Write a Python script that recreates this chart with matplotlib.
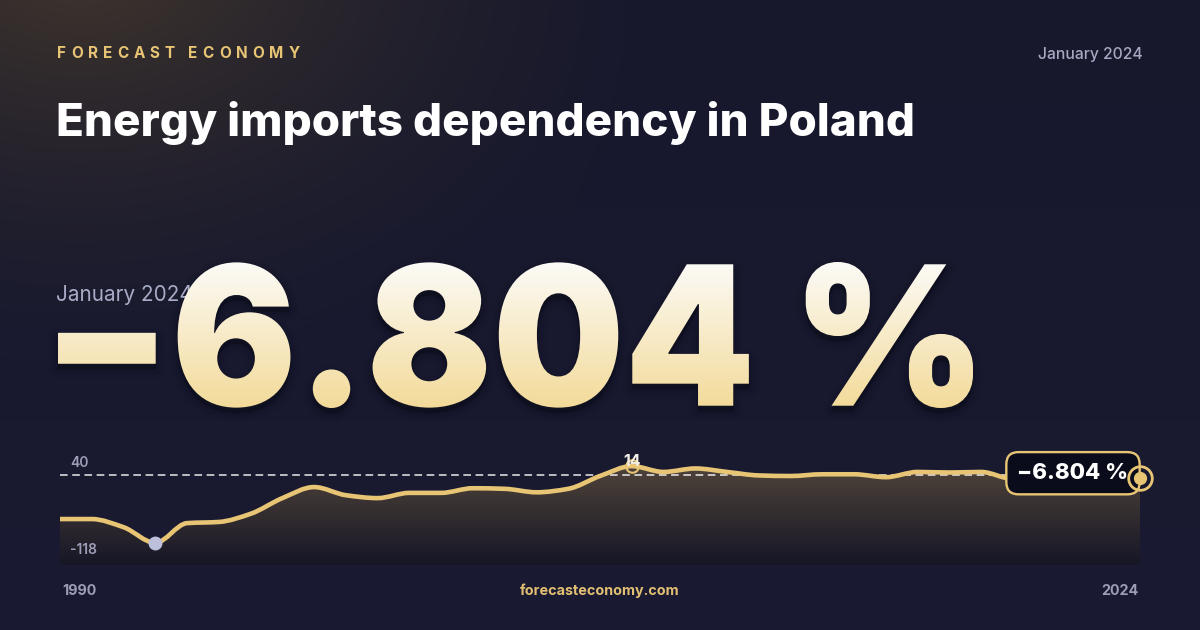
import numpy as np
import matplotlib
matplotlib.use("Agg")
import matplotlib.pyplot as plt
from matplotlib.textpath import TextPath
from matplotlib.font_manager import FontProperties
from matplotlib.patches import PathPatch
from matplotlib.path import Path
from matplotlib.transforms import Affine2D

# ---------------- data ----------------
years = list(range(1990, 2025))
values = [-77, -77, -91, -118, -84, -82, -68, -41, -22, -36,
          -41, -32, -32, -24, -25, -31, -25, -3, 14, 4,
          10, 4, -2, -3, 0, 0, -5, 4, 3, 4,
          -8, -6, -9, -7, -6.804]
label_top = "40"
label_min = "-118"
headline_value = "\u22126.804 %"
box_value = "\u22126.804 %"
period = "January 2024"
title = "Energy imports dependency in Poland"
brand = "FORECAST ECONOMY"
site = "forecasteconomy.com"
first_year, last_year = "1990", "2024"

W, H = 1200, 630
GOLD = "#e8c575"
GREY = "#9c9eb8"
FONT = "Inter"

plt.rcParams['font.family'] = [FONT, 'DejaVu Sans']
fig = plt.figure(figsize=(12, 6.3), dpi=100)

# ---------------- background ----------------
bg = fig.add_axes([0, 0, 1, 1])
bg.set_axis_off()
yy, xx = np.mgrid[0:H, 0:W]
base = np.array([23, 24, 44]) / 255.0
bottom_c = np.array([26, 27, 50]) / 255.0
t = (yy / H)[..., None]
img = base * (1 - t) + bottom_c * t
d = np.sqrt(((xx - 80) / 620.0) ** 2 + ((yy + 40) / 420.0) ** 2)
glow = np.clip(1 - d, 0, 1)[..., None] ** 1.6
warm = np.array([64, 54, 44]) / 255.0
img = img * (1 - glow) + warm * glow
bg.imshow(img, extent=[0, W, H, 0], aspect='auto', zorder=0)


def fit_text(ax, x, y, s, target_w, size, **kw):
    t = ax.text(x, y, s, fontsize=size, **kw)
    r = fig.canvas.get_renderer()
    w = t.get_window_extent(r).width
    t.set_fontsize(size * target_w / w)
    return t


def spaced_text(ax, x, y, s, size, spacing, **kw):
    r = fig.canvas.get_renderer()
    cx = x
    for ch in s:
        t = ax.text(cx, y, ch, fontsize=size, **kw)
        w = t.get_window_extent(r).width
        if ch == " ":
            w = size * 0.3
        cx += w + spacing
    return cx


# header
spaced_text(bg, 57, 53, brand, 11, 5.0, color=GOLD, fontweight='bold',
            va='center', ha='left')
fit_text(bg, 1143, 54, period, 105, 11, color="#a6a8c2", va='center', ha='right',
         fontweight='medium')
fit_text(bg, 56, 123, title, 857, 31, color="white", fontweight='heavy',
         va='center', ha='left')

# period label behind big number
fit_text(bg, 56, 295, period, 136, 14.5, color="#a9abc6", va='center', ha='left')

# big gradient number
fp = FontProperties(family=FONT, weight='black')
tp = TextPath((0, 0), headline_value, size=100, prop=fp)
bb = tp.get_extents()
x0t, x1t, ytop, ybot = 58, 973, 262, 408
s = (ybot - ytop) / bb.height
sx = (x1t - x0t) / bb.width
tr = Affine2D().translate(-bb.x0, -bb.y0).scale(sx, -s).translate(x0t, ybot) + bg.transData
shadow_tr = Affine2D().translate(-bb.x0, -bb.y0).scale(sx, -s).translate(x0t, ybot + 5) + bg.transData
for lw_s, a_s in [(14, 0.05), (9, 0.06), (4, 0.08), (0.5, 0.10)]:
    bg.add_patch(PathPatch(tp, transform=shadow_tr, facecolor="#05060c", edgecolor="#05060c",
                           lw=lw_s, alpha=a_s, zorder=2, joinstyle='round'))
patch = PathPatch(tp, transform=tr, facecolor='none', edgecolor='none', zorder=3)
bg.add_patch(patch)
gt = np.linspace(0, 1, 256)[:, None, None]
top_c = np.array([252, 251, 248]) / 255.0
bot_c = np.array([243, 218, 152]) / 255.0
grad = np.repeat(top_c * (1 - gt) + bot_c * gt, 2, axis=1)
gim = bg.imshow(grad, extent=[x0t - 5, x1t + 5, ybot + 2, ytop - 2],
                aspect='auto', zorder=3, interpolation='bilinear')
gim.set_clip_path(patch)

# footer
bg.text(62, 591, first_year, color=GREY, fontsize=10.3, fontweight='bold',
        va='center', ha='left')
bg.text(1138, 591, last_year, color=GREY, fontsize=10.3, fontweight='bold',
        va='center', ha='right')
bg.text(600, 591, site, color="#e2bf73", fontsize=10.3, fontweight='bold',
        va='center', ha='center')

bg.set_xlim(0, W)
bg.set_ylim(H, 0)

# ---------------- chart ----------------
ymin, ymax = -156, 40
ax = fig.add_axes([60 / W, (H - 565) / H, 1080 / W, 114 / H])
ax.set_axis_off()


def monotone_bezier(x, y):
    x = np.asarray(x, float)
    y = np.asarray(y, float)
    n = len(x)
    h = np.diff(x)
    delta = np.diff(y) / h
    m = np.zeros(n)
    m[0], m[-1] = delta[0], delta[-1]
    for k in range(1, n - 1):
        if delta[k - 1] * delta[k] > 0:
            w1 = 2 * h[k] + h[k - 1]
            w2 = h[k] + 2 * h[k - 1]
            m[k] = (w1 + w2) / (w1 / delta[k - 1] + w2 / delta[k])
    verts = [(x[0], y[0])]
    codes = [Path.MOVETO]
    for k in range(n - 1):
        verts += [(x[k] + h[k] / 3, y[k] + m[k] * h[k] / 3),
                  (x[k + 1] - h[k] / 3, y[k + 1] - m[k + 1] * h[k] / 3),
                  (x[k + 1], y[k + 1])]
        codes += [Path.CURVE4] * 3
    return verts, codes


lverts, lcodes = monotone_bezier(years, values)
fverts = lverts + [(years[-1], ymin), (years[0], ymin), (years[0], values[0])]
fcodes = lcodes + [Path.LINETO, Path.LINETO, Path.CLOSEPOLY]

fill_t = np.linspace(0, 1, 256)[:, None, None]
f_top = np.array([80, 68, 58]) / 255.0
f_bot = np.array([22, 22, 38]) / 255.0
fgrad = np.repeat(f_top * (1 - fill_t) + f_bot * fill_t, 2, axis=1)
fim = ax.imshow(fgrad, extent=[years[0], years[-1], ymin, max(values) + 2],
                aspect='auto', origin='upper', zorder=1, interpolation='bilinear')
fim.set_clip_path(Path(fverts, fcodes), ax.transData)
ax.set_xlim(years[0], years[-1])
ax.set_ylim(ymin, ymax)

ax.axhline(-1.5, color='white', lw=1.1, ls=(0, (5, 3)), zorder=2, alpha=0.9)
ax.add_patch(PathPatch(Path(lverts, lcodes), facecolor='none', edgecolor=GOLD, lw=3.3,
                       capstyle='round', joinstyle='round', zorder=3))

imin = int(np.argmin(values))
imax = int(np.argmax(values))
ax.plot(years[imin], values[imin], 'o', ms=9, color="#bcc0da", zorder=4, clip_on=False)
ax.plot(years[imax], values[imax], 'o', ms=9, mfc='none', mec=GOLD, mew=1.5,
        zorder=4, clip_on=False)
ax.annotate(f"{values[imax]:g}", (years[imax], values[imax]), xytext=(0, 5),
            textcoords='offset pixels', ha='center', va='center', color="#f4f0e6",
            fontsize=11.5, fontweight='bold', zorder=5)

# end marker and value box
ax.annotate(box_value, (years[-1], values[-1]), xytext=(-67, 5),
            textcoords='offset pixels', ha='center', va='center', color='white',
            fontsize=16, fontweight='heavy', zorder=5,
            bbox=dict(boxstyle='round,pad=0.5,rounding_size=0.55', fc="#0b0c1b",
                      ec=GOLD, lw=1.7))
ax.plot(years[-1], values[-1], 'o', ms=17, mfc='none', mec=GOLD, mew=2,
        zorder=6, clip_on=False)
ax.plot(years[-1], values[-1], 'o', ms=8.5, color=GOLD, zorder=6, clip_on=False)

ax.annotate(label_top, (years[0], ymax), xytext=(10, -12), textcoords='offset pixels',
            ha='left', va='center', color=GREY, fontsize=10, fontweight='semibold')
ax.annotate(label_min, (years[0], values[imin]), xytext=(10, -7), textcoords='offset pixels',
            ha='left', va='center', color=GREY, fontsize=10, fontweight='semibold')

fig.savefig("out.png", dpi=100)
